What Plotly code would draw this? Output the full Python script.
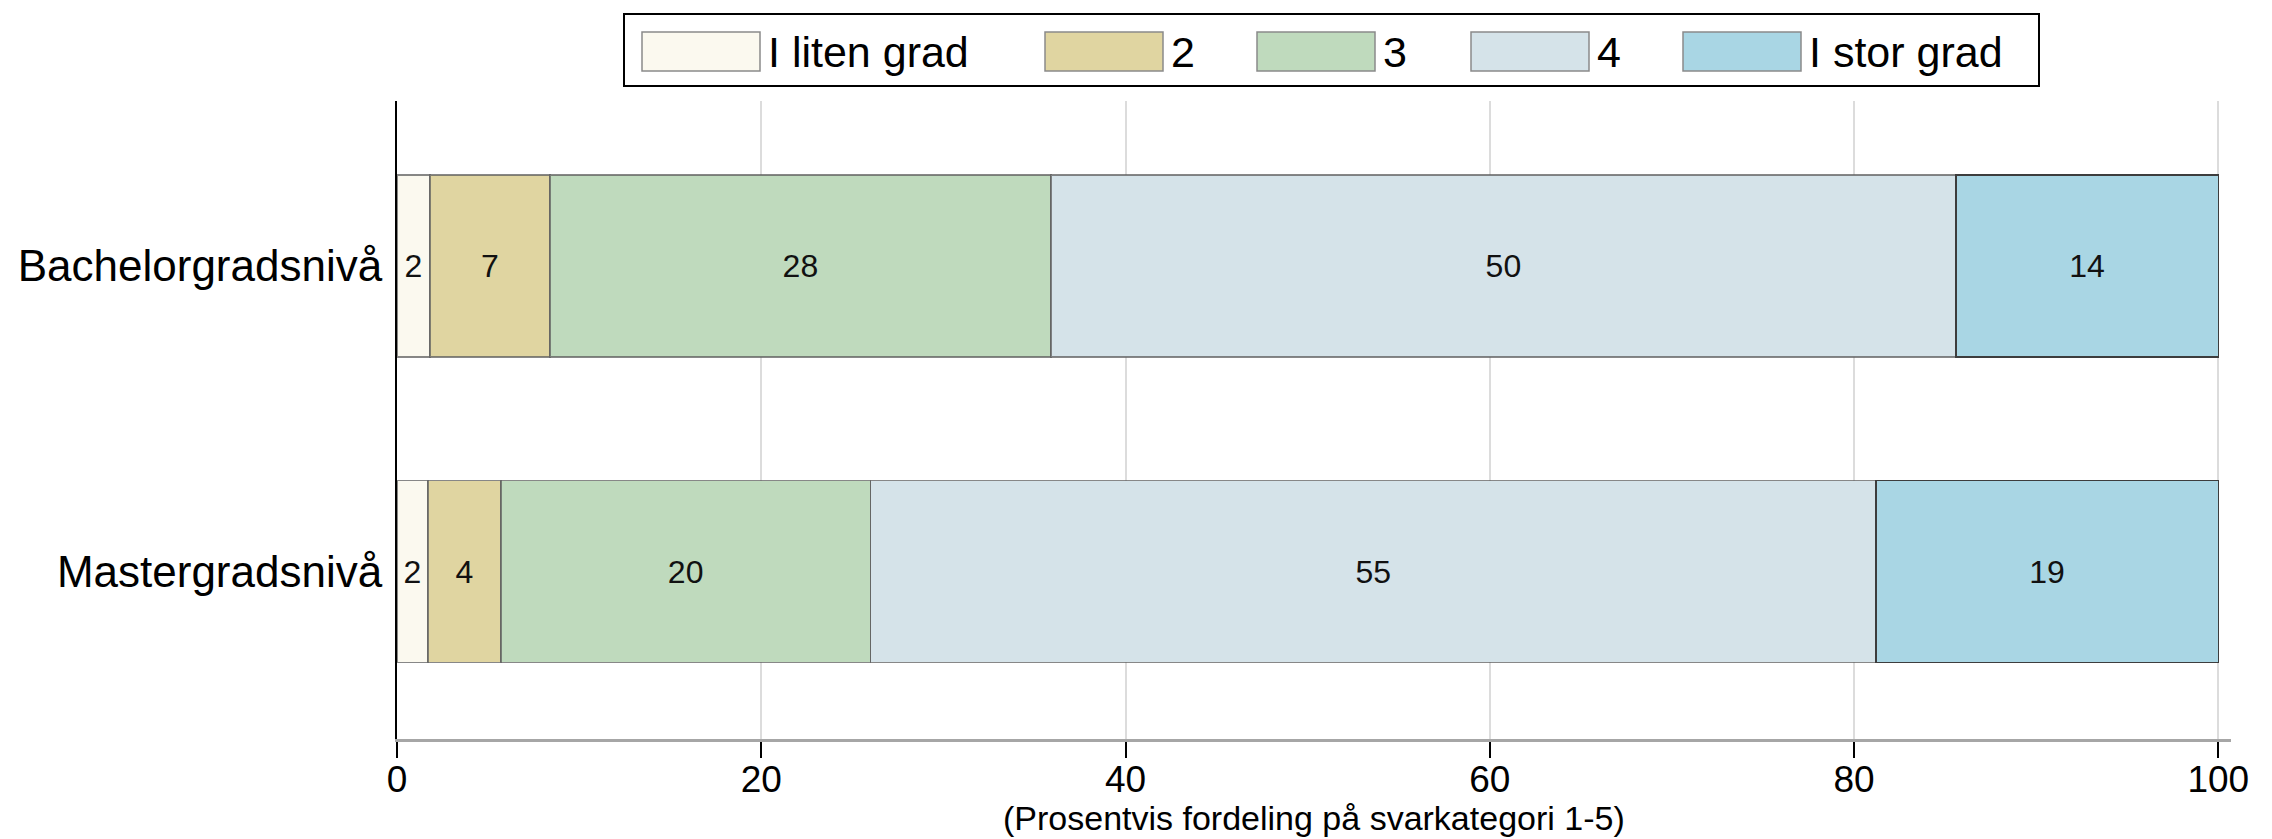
import plotly.graph_objects as go

# ---------------------------------------------------------------------
# Data: percent distribution per answer category (1-5)
# ---------------------------------------------------------------------
levels = ["Bachelorgradsnivå", "Mastergradsnivå"]
categories = ["I liten grad", "2", "3", "4", "I stor grad"]
bachelor = [1.8, 6.6, 27.5, 49.7, 14.4]
master = [1.7, 4.0, 20.3, 55.2, 18.8]
colors = ["#fbf9ef", "#e0d5a1", "#bfdabd", "#d5e3e9", "#a9d6e4"]
x_ticks = [0, 20, 40, 60, 80, 100]
x_title = "(Prosentvis fordeling på svarkategori 1-5)"

FONT = "Liberation Sans, Arial, Helvetica, sans-serif"

# page / plot geometry in pixels
W, H = 2272, 839
L, R, T, B = 397, 41, 101, 100
PW, PH = W - L - R, H - T - B


def px_x(px):
    return (px - L) / PW


def px_y(py):
    return (H - B - py) / PH


fig = go.Figure()
for i, cat in enumerate(categories):
    edge = "#3d3d3d" if i == len(categories) - 1 else "rgba(95,95,95,0.75)"
    fig.add_trace(go.Bar(
        y=levels,
        x=[bachelor[i], master[i]],
        name=cat,
        orientation="h",
        marker=dict(color=colors[i], line=dict(color=edge, width=1.5)),
        texttemplate="%{x:.0f}",
        textposition="inside",
        insidetextanchor="middle",
        textangle=0,
        textfont=dict(size=32, color="#111111", family=FONT),
        showlegend=False,
    ))

# legend drawn as a framed row of big swatches, like the original
sw_left = [642, 1045, 1257, 1471, 1683]
sw_w = 118
shapes = [dict(type="rect", xref="paper", yref="paper",
               x0=px_x(624), x1=px_x(2039), y0=px_y(86), y1=px_y(14),
               line=dict(color="black", width=2), fillcolor="white")]
annotations = []
for i, cat in enumerate(categories):
    x0 = sw_left[i]
    shapes.append(dict(type="rect", xref="paper", yref="paper",
                       x0=px_x(x0), x1=px_x(x0 + sw_w), y0=px_y(71), y1=px_y(32),
                       line=dict(color="#8a8a8a", width=1.5), fillcolor=colors[i]))
    annotations.append(dict(text=cat, xref="paper", yref="paper",
                            x=px_x(x0 + sw_w + 6), y=px_y(52),
                            xanchor="left", yanchor="middle", showarrow=False,
                            font=dict(size=43, color="black", family=FONT)))

# x-axis title sits right at the bottom edge, under the tick labels
annotations.append(dict(text=x_title, xref="paper", yref="paper",
                        x=0.5, y=px_y(H), xanchor="center", yanchor="bottom",
                        showarrow=False, font=dict(size=34, color="black", family=FONT)))

fig.update_layout(
    width=W, height=H,
    barmode="stack",
    bargap=0.405,
    paper_bgcolor="white",
    plot_bgcolor="white",
    margin=dict(l=L, r=R, t=T, b=B),
    font=dict(family=FONT, color="black"),
    shapes=shapes,
    annotations=annotations,
    showlegend=False,
)
fig.update_xaxes(
    range=[0, 100.7],
    tickvals=x_ticks,
    ticks="outside", ticklen=16, tickwidth=2, tickcolor="black",
    ticklabelstandoff=-10,
    tickfont=dict(size=37, color="black"),
    showline=True, linecolor="#a6a6a6", linewidth=3,
    showgrid=True, gridcolor="#dcdcdc", gridwidth=1.5,
    zeroline=False,
    automargin=False,
)
fig.update_yaxes(
    categoryorder="array", categoryarray=levels[::-1],
    range=[-0.548, 1.54],
    showline=True, linecolor="black", linewidth=2,
    ticks="", ticklabelstandoff=4,
    tickfont=dict(size=44, color="black"),
    showgrid=False, zeroline=False,
    automargin=False,
)

# drop the default 8px body margin so the figure sits at the page corner
fig.write_html("out.html", config={"displayModeBar": False},
               post_script="document.body.style.margin='0';")
